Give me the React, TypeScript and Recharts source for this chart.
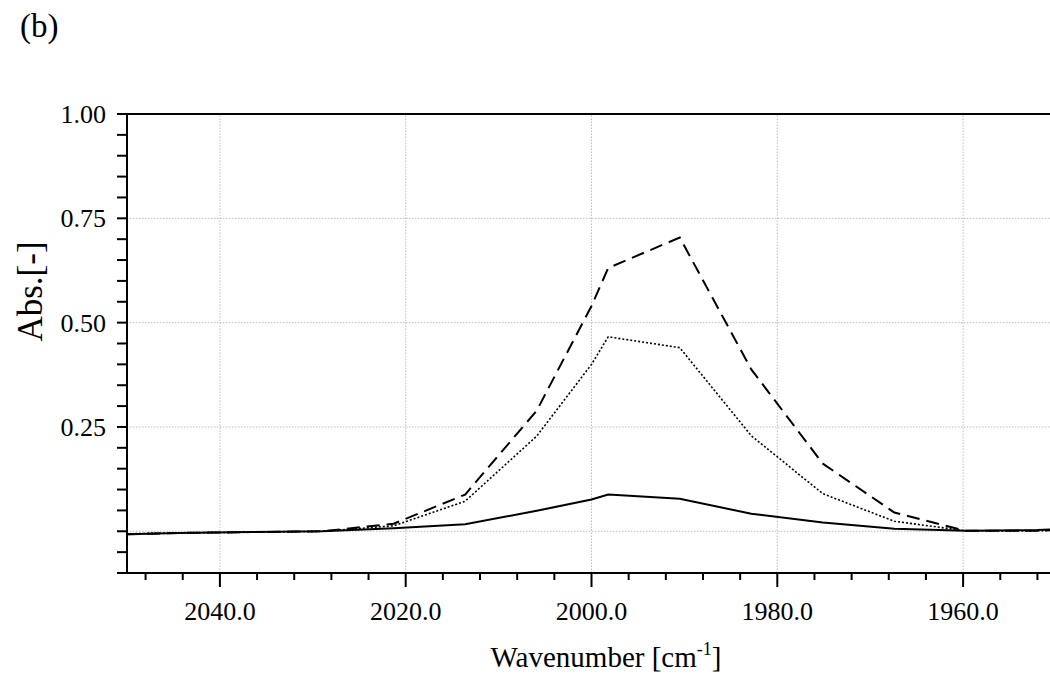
import React from 'react';
import { LineChart, Line, XAxis, YAxis, ReferenceLine } from 'recharts';

// Wavenumber positions (cm^-1)
const wavenumbers = [2050, 2044.4, 2036.7, 2029.0, 2021.3, 2013.6, 2005.9, 2000.0, 1998.2, 1990.5, 1982.8, 1975.1, 1967.4, 1959.7, 1952.0, 1950.0];
// Absorbance series
const solidSeries = [-0.007, -0.004, -0.002, 0.0, 0.007, 0.017, 0.049, 0.076, 0.088, 0.078, 0.042, 0.021, 0.006, 0.001, 0.003, 0.005];
const dottedSeries = [-0.006, -0.004, -0.002, 0.0, 0.013, 0.072, 0.228, 0.4, 0.466, 0.44, 0.229, 0.09, 0.024, 0.001, 0.001, 0.003];
const dashedSeries = [-0.007, -0.004, -0.002, 0.0, 0.018, 0.088, 0.289, 0.54, 0.631, 0.704, 0.388, 0.162, 0.045, 0.001, 0.001, 0.003];

const xMajorTicks = [2040, 2020, 2000, 1980, 1960];
const xAllTicks = [2048, 2044, 2040, 2036, 2032, 2028, 2024, 2020, 2016, 2012, 2008, 2004, 2000, 1996, 1992, 1988, 1984, 1980, 1976, 1972, 1968, 1964, 1960, 1956, 1952];
const yMajorTicks = [0.25, 0.5, 0.75, 1.0];
const yAllTicks = [-0.1, -0.05, 0, 0.05, 0.1, 0.15, 0.2, 0.25, 0.3, 0.35, 0.4, 0.45, 0.5, 0.55, 0.6, 0.65, 0.7, 0.75, 0.8, 0.85, 0.9, 0.95, 1.0];
const xGridValues = [2040, 2020, 2000, 1980, 1960];
const yGridValues = [0, 0.25, 0.5, 0.75];

const data = wavenumbers.map((w, i) => ({
  w,
  solid: solidSeries[i],
  dotted: dottedSeries[i],
  dashed: dashedSeries[i],
}));

const FONT = '"Liberation Serif", "Times New Roman", serif';

const isIn = (arr: number[], v: number) => arr.some((m) => Math.abs(m - v) < 1e-6);

const XTick = (props: any) => {
  const { x, y, payload } = props;
  const major = isIn(xMajorTicks, payload.value);
  return (
    <g>
      <line x1={x} x2={x} y1={y} y2={y + (major ? 14 : 7)} stroke="#000" strokeWidth={2} />
      {major && (
        <text x={x} y={y + 47} textAnchor="middle" fontSize={26} fontFamily={FONT} fill="#000">
          {Number(payload.value).toFixed(1)}
        </text>
      )}
    </g>
  );
};

const YTick = (props: any) => {
  const { x, y, payload } = props;
  const major = isIn(yMajorTicks, payload.value);
  return (
    <g>
      <line x1={x - 10} x2={x} y1={y} y2={y} stroke="#000" strokeWidth={2} />
      {major && (
        <text x={x - 21} y={y + 9} textAnchor="end" fontSize={26} fontFamily={FONT} fill="#000">
          {Number(payload.value).toFixed(2)}
        </text>
      )}
    </g>
  );
};

const XLabel = () => (
  <text x={606} y={667} textAnchor="middle" fontSize={29} fontFamily={FONT} fill="#000">
    Wavenumber [cm
    <tspan fontSize={18} dy={-12}>-1</tspan>
    <tspan dy={12}>]</tspan>
  </text>
);

const YLabel = () => (
  <g>
    <text
      transform="translate(42, 291.5) rotate(-90)"
      textAnchor="middle"
      fontSize={35}
      fontFamily={FONT}
      fill="#000"
    >
      Abs.[-]
    </text>
    <text x={20} y={37} fontSize={33} fontFamily={FONT} fill="#000">
      (b)
    </text>
  </g>
);

const gridStroke = '#bdbdbd';

export default function App() {
  return (
    <div
      style={{
        position: 'absolute',
        left: 0,
        top: 0,
        width: 1050,
        height: 677,
        overflow: 'hidden',
        background: '#fff',
        fontFamily: FONT,
      }}
    >
      <LineChart
        width={1060}
        height={677}
        data={data}
        margin={{ top: 114, right: 4, left: 0, bottom: 44 }}
      >
        <XAxis
          dataKey="w"
          type="number"
          domain={[1950, 2050]}
          reversed
          allowDataOverflow
          ticks={xAllTicks}
          interval={0}
          tickLine={false}
          tickSize={0}
          tickMargin={0}
          tick={<XTick />}
          axisLine={{ stroke: '#000', strokeWidth: 2 }}
          height={60}
          label={<XLabel />}
        />
        <YAxis
          type="number"
          domain={[-0.1, 1.0]}
          allowDataOverflow
          ticks={yAllTicks}
          interval={0}
          tickLine={false}
          tickSize={0}
          tickMargin={0}
          tick={<YTick />}
          axisLine={{ stroke: '#000', strokeWidth: 2 }}
          width={127}
          label={<YLabel />}
        />
        {xGridValues.map((v) => (
          <ReferenceLine key={'gx' + v} x={v} stroke={gridStroke} strokeWidth={1} strokeDasharray="1.5 1.5" />
        ))}
        {yGridValues.map((v) => (
          <ReferenceLine key={'gy' + v} y={v} stroke={gridStroke} strokeWidth={1} strokeDasharray="1.5 1.5" />
        ))}
        <ReferenceLine y={1.0} stroke="#000" strokeWidth={2} />
        <Line
          type="linear"
          dataKey="solid"
          stroke="#000"
          strokeWidth={2}
          dot={false}
          isAnimationActive={false}
        />
        <Line
          type="linear"
          dataKey="dotted"
          stroke="#000"
          strokeWidth={1.6}
          strokeDasharray="2 2"
          dot={false}
          isAnimationActive={false}
        />
        <Line
          type="linear"
          dataKey="dashed"
          stroke="#000"
          strokeWidth={2}
          strokeDasharray="13 7"
          dot={false}
          isAnimationActive={false}
        />
      </LineChart>
    </div>
  );
}
